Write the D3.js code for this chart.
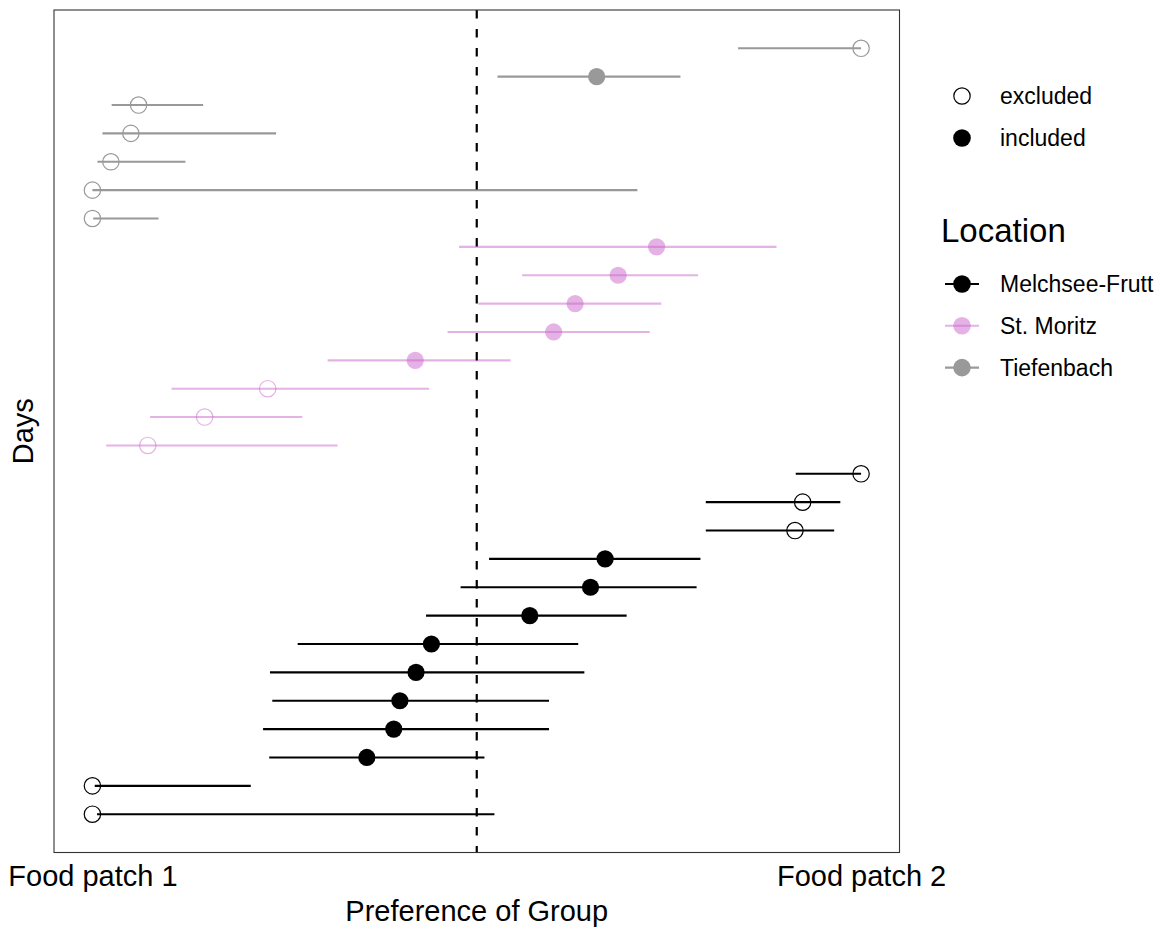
<!DOCTYPE html>
<html>
<head>
<meta charset="utf-8">
<script src="https://cdn.jsdelivr.net/npm/d3@7"></script>
<style>
  html, body { margin: 0; padding: 0; background: #fff; }
  text { font-family: "Liberation Sans", Arial, sans-serif; fill: #000; }
</style>
</head>
<body>
<svg id="chart" width="1160" height="928"></svg>
<script>
// One row per day, bottom to top
const days = d3.range(1, 29);
const locations = [
  "Melchsee-Frutt","Melchsee-Frutt","Melchsee-Frutt","Melchsee-Frutt","Melchsee-Frutt",
  "Melchsee-Frutt","Melchsee-Frutt","Melchsee-Frutt","Melchsee-Frutt","Melchsee-Frutt",
  "Melchsee-Frutt","Melchsee-Frutt","Melchsee-Frutt",
  "St. Moritz","St. Moritz","St. Moritz","St. Moritz","St. Moritz","St. Moritz","St. Moritz","St. Moritz",
  "Tiefenbach","Tiefenbach","Tiefenbach","Tiefenbach","Tiefenbach","Tiefenbach","Tiefenbach"
];
const status = [
  "excluded","excluded","included","included","included","included","included","included",
  "included","included","excluded","excluded","excluded",
  "excluded","excluded","excluded","included","included","included","included","included",
  "excluded","excluded","excluded","excluded","excluded","included","excluded"
];
const preference = [
  0, 0, 0.357, 0.392, 0.400, 0.421, 0.441, 0.569, 0.648, 0.667, 0.914, 0.924, 1.0,
  0.072, 0.146, 0.228, 0.420, 0.600, 0.628, 0.684, 0.734,
  0, 0, 0.024, 0.050, 0.060, 0.656, 1.0
];
const lower = [
  0.006, 0.003, 0.230, 0.222, 0.234, 0.231, 0.267, 0.434, 0.479, 0.516, 0.798, 0.798, 0.915,
  0.018, 0.075, 0.103, 0.306, 0.462, 0.502, 0.559, 0.477,
  0.001, 0.0, 0.0065, 0.013, 0.025, 0.527, 0.840
];
const upper = [
  0.523, 0.206, 0.510, 0.594, 0.594, 0.640, 0.632, 0.695, 0.786, 0.791, 0.965, 0.973, 1.0,
  0.319, 0.273, 0.438, 0.544, 0.725, 0.740, 0.788, 0.890,
  0.086, 0.709, 0.121, 0.239, 0.144, 0.765, 1.0
];
const xTickValues = [0, 1];
const xTickLabels = ["Food patch 1", "Food patch 2"];
const locationNames = ["Melchsee-Frutt", "St. Moritz", "Tiefenbach"];
const statusNames = ["excluded", "included"];

const rows = days.map((d, i) => ({
  day: d, location: locations[i], status: status[i],
  est: preference[i], lo: lower[i], hi: upper[i]
}));

const svg = d3.select("#chart");
const panel = { left: 54, right: 899.5, top: 10, bottom: 852.5 };

// Continuous scales with 5% padding on both ends
const x = d3.scaleLinear()
  .domain([0 - 0.05, 1 + 0.05])
  .range([panel.left, panel.right]);
const y = d3.scaleLinear()
  .domain([1 - 27 * 0.05, 28 + 27 * 0.05])
  .range([panel.bottom, panel.top]);

const colour = d3.scaleOrdinal()
  .domain(locationNames)
  .range(["#000000", "#cc66cc", "#999999"]);
const alpha = d3.scaleOrdinal()
  .domain(locationNames)
  .range([1, 0.5, 1]);

const g = svg.append("g");

// Interval segments
g.selectAll("line.ci")
  .data(rows)
  .join("line")
  .attr("class", "ci")
  .attr("x1", d => x(d.lo))
  .attr("x2", d => x(d.hi))
  .attr("y1", d => y(d.day))
  .attr("y2", d => y(d.day))
  .attr("stroke", d => colour(d.location))
  .attr("stroke-opacity", d => alpha(d.location))
  .attr("stroke-width", 2.1);

// Reference line at indifference
g.append("line")
  .attr("x1", x(0.5)).attr("x2", x(0.5))
  .attr("y1", panel.top).attr("y2", panel.bottom)
  .attr("stroke", "#000")
  .attr("stroke-width", 2.2)
  .attr("stroke-dasharray", "8.5,10.5");

// Point estimates: filled = included, open = excluded
g.selectAll("circle.pt")
  .data(rows)
  .join("circle")
  .attr("class", "pt")
  .attr("cx", d => x(d.est))
  .attr("cy", d => y(d.day))
  .attr("r", d => d.status === "included" ? 8.6 : 8.2)
  .attr("fill", d => d.status === "included" ? colour(d.location) : "none")
  .attr("fill-opacity", d => alpha(d.location))
  .attr("stroke", d => d.status === "included" ? "none" : colour(d.location))
  .attr("stroke-opacity", d => alpha(d.location))
  .attr("stroke-width", 1.2);

// Panel border
svg.append("rect")
  .attr("x", panel.left).attr("y", panel.top)
  .attr("width", panel.right - panel.left)
  .attr("height", panel.bottom - panel.top)
  .attr("fill", "none")
  .attr("stroke", "#333")
  .attr("stroke-width", 1.1);

// X axis labels (no tick marks)
const xAxis = d3.axisBottom(x)
  .tickValues(xTickValues)
  .tickFormat((d, i) => xTickLabels[i])
  .tickSize(0)
  .tickPadding(0);
const xAxisG = svg.append("g")
  .attr("transform", `translate(0,${panel.bottom})`)
  .call(xAxis);
xAxisG.select(".domain").remove();
xAxisG.selectAll("text")
  .attr("dy", null)
  .attr("y", 33.5)
  .style("font-size", "29px")
  .style("font-family", "'Liberation Sans', Arial, sans-serif")
  .attr("fill", "#000");

// Axis titles
svg.append("text")
  .attr("x", x(0.5)).attr("y", 921)
  .attr("text-anchor", "middle")
  .style("font-size", "29px")
  .text("Preference of Group");

svg.append("text")
  .attr("transform", `translate(33,${(panel.top + panel.bottom) / 2}) rotate(-90)`)
  .attr("text-anchor", "middle")
  .style("font-size", "29px")
  .text("Days");

// Legend: inclusion status
const leg1 = svg.append("g");
statusNames.forEach((s, i) => {
  const cy = 96 + i * 42;
  leg1.append("circle")
    .attr("cx", 962).attr("cy", cy)
    .attr("r", s === "included" ? 8.8 : 8.2)
    .attr("fill", s === "included" ? "#000" : "none")
    .attr("stroke", s === "included" ? "none" : "#000")
    .attr("stroke-width", 1.2);
  leg1.append("text")
    .attr("x", 1000).attr("y", cy + 8)
    .style("font-size", "23px")
    .text(s);
});

// Legend: location
const leg2 = svg.append("g");
leg2.append("text")
  .attr("x", 941).attr("y", 242)
  .style("font-size", "33px")
  .text("Location");
locationNames.forEach((loc, i) => {
  const cy = 284 + i * 41.8;
  leg2.append("line")
    .attr("x1", 945).attr("x2", 979)
    .attr("y1", cy).attr("y2", cy)
    .attr("stroke", colour(loc))
    .attr("stroke-opacity", alpha(loc))
    .attr("stroke-width", 2.1);
  leg2.append("circle")
    .attr("cx", 962).attr("cy", cy)
    .attr("r", 8.8)
    .attr("fill", colour(loc))
    .attr("fill-opacity", alpha(loc));
  leg2.append("text")
    .attr("x", 1000).attr("y", cy + 8)
    .style("font-size", "23px")
    .text(loc);
});
</script>
</body>
</html>
